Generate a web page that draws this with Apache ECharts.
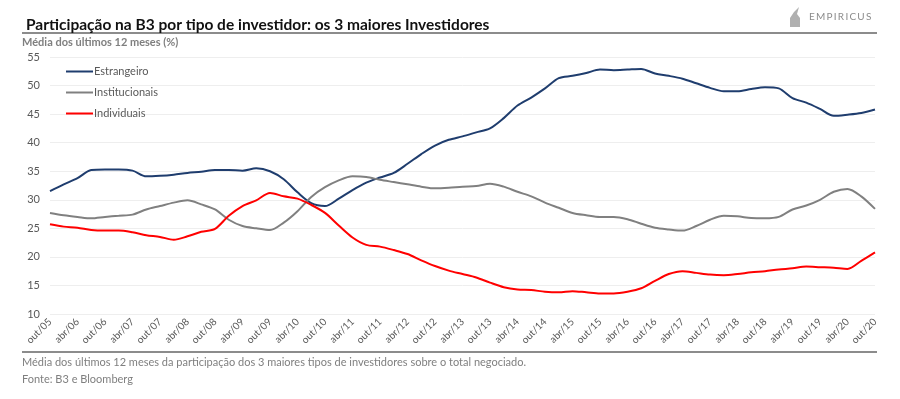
<!DOCTYPE html>
<html>
<head>
<meta charset="utf-8">
<script src="https://cdn.jsdelivr.net/npm/echarts@6/dist/echarts.min.js"></script>
<style>
  html, body { margin: 0; padding: 0; background: #fff; }
  #chart { width: 900px; height: 399px; }
</style>
</head>
<body>
<div id="chart"></div>
<script>
// trimestral, de out/05 a out/20
const meses = ['jan', 'abr', 'jul', 'out']
const categorias = []
for (let q = 0; q <= 60; q++) {
  const m = 3 + q            // 3 = out/05 em trimestres a partir de jan/05
  const ano = 5 + Math.floor(m / 4)
  categorias.push(meses[m % 4] + '/' + String(ano).padStart(2, '0'))
}

const estrangeiro = [
  31.5, 32.7, 33.8, 35.2, 35.3, 35.3, 35.1, 34.1, 34.2, 34.4,
  34.7, 34.9, 35.2, 35.2, 35.1, 35.5, 35.0, 33.6, 31.3, 29.4,
  28.9, 30.2, 31.7, 33.0, 33.9, 34.7, 36.3, 38.0, 39.5, 40.5,
  41.1, 41.8, 42.5, 44.3, 46.5, 47.9, 49.5, 51.3, 51.7, 52.2,
  52.8, 52.7, 52.8, 52.9, 52.1, 51.7, 51.2, 50.4, 49.6, 49.0,
  49.0, 49.4, 49.7, 49.5, 47.8, 47.0, 45.9, 44.7, 44.9, 45.2,
  45.8
]
const institucionais = [
  27.7, 27.3, 27.0, 26.75, 27.0, 27.2, 27.4, 28.3, 28.9, 29.5,
  29.9, 29.2, 28.3, 26.5, 25.4, 25.0, 24.7, 26.0, 28.0, 30.5,
  32.2, 33.4, 34.1, 34.0, 33.5, 33.1, 32.7, 32.3, 32.0, 32.1,
  32.3, 32.4, 32.8, 32.3, 31.4, 30.6, 29.5, 28.6, 27.7, 27.3,
  27.0, 27.0, 26.6, 25.8, 25.1, 24.8, 24.6, 25.4, 26.5, 27.2,
  27.1, 26.8, 26.75, 27.0, 28.3, 29.0, 30.0, 31.4, 31.9, 30.6,
  28.4
]
const individuais = [
  25.7, 25.3, 25.1, 24.7, 24.6, 24.6, 24.3, 23.8, 23.5, 23.0,
  23.6, 24.4, 24.9, 27.2, 28.9, 29.9, 31.2, 30.6, 30.2, 29.1,
  27.7, 25.5, 23.4, 22.1, 21.8, 21.2, 20.5, 19.4, 18.4, 17.6,
  17.0, 16.4, 15.5, 14.7, 14.3, 14.2, 13.9, 13.8, 14.0, 13.8,
  13.6, 13.6, 13.9, 14.5, 15.8, 17.0, 17.5, 17.2, 16.9, 16.8,
  17.0, 17.3, 17.5, 17.8, 18.0, 18.3, 18.2, 18.1, 17.9, 19.3,
  20.8
]

const fonte = 'Lato, sans-serif'
const chart = echarts.init(document.getElementById('chart'))

chart.setOption({
  animation: false,
  title: {
    text: 'Participação na B3 por tipo de investidor: os 3 maiores Investidores',
    left: 21,
    top: 12,
    textStyle: { fontFamily: fonte, fontSize: 15.5, fontWeight: 'bold', color: '#111' }
  },
  graphic: [
    { type: 'line', shape: { x1: 22, y1: 33, x2: 877, y2: 33 }, style: { stroke: '#8c8c8c', lineWidth: 2 } },
    { type: 'line', shape: { x1: 22, y1: 352, x2: 877, y2: 352 }, style: { stroke: '#8c8c8c', lineWidth: 2 } },
    {
      type: 'polygon',
      shape: { points: [[790, 27], [790, 18], [794, 12], [799, 7], [797, 14], [800, 18], [800, 27]] },
      style: { fill: '#b0b0b0' }
    },
    {
      type: 'text', left: 809, top: 12,
      style: { text: 'E\u2009M\u2009P\u2009I\u2009R\u2009I\u2009C\u2009U\u2009S', font: '10px ' + fonte, fill: '#8c8c8c' }
    },
    {
      type: 'text', left: 22, top: 37,
      style: { text: 'Média dos últimos 12 meses (%)', font: 'bold 11px ' + fonte, fill: '#7f7f7f' }
    },
    {
      type: 'text', left: 22, top: 357,
      style: { text: 'Média dos últimos 12 meses da participação dos 3 maiores tipos de investidores sobre o total negociado.', font: '11px ' + fonte, fill: '#7f7f7f' }
    },
    {
      type: 'text', left: 22, top: 374,
      style: { text: 'Fonte: B3 e Bloomberg', font: '11px ' + fonte, fill: '#7f7f7f' }
    }
  ],
  legend: {
    orient: 'vertical',
    left: 61,
    top: 60,
    itemWidth: 27,
    itemHeight: 2,
    itemGap: 8,
    icon: 'rect',
    textStyle: { fontFamily: fonte, fontSize: 11, color: '#595959', padding: [0, 0, 0, -4], lineHeight: 13 },
    data: ['Estrangeiro', 'Institucionais', 'Individuais']
  },
  grid: { left: 50, right: 25, top: 57, bottom: 85 },
  xAxis: {
    type: 'category',
    data: categorias,
    boundaryGap: false,
    axisLine: { show: false },
    axisTick: { show: false },
    axisLabel: { interval: 1, rotate: 45, fontFamily: fonte, fontSize: 10, color: '#595959', margin: 6 }
  },
  yAxis: {
    type: 'value',
    min: 10,
    max: 55,
    interval: 5,
    axisLine: { show: false },
    axisTick: { show: false },
    axisLabel: { fontFamily: fonte, fontSize: 11, color: '#595959', margin: 10 },
    splitLine: { lineStyle: { color: '#eeeeee' } }
  },
  series: [
    { name: 'Estrangeiro', type: 'line', data: estrangeiro, symbol: 'none', smooth: 0.3, lineStyle: { width: 2, color: '#1f3d6e' }, itemStyle: { color: '#1f3d6e' } },
    { name: 'Institucionais', type: 'line', data: institucionais, symbol: 'none', smooth: 0.3, lineStyle: { width: 2, color: '#808080' }, itemStyle: { color: '#808080' } },
    { name: 'Individuais', type: 'line', data: individuais, symbol: 'none', smooth: 0.3, lineStyle: { width: 2, color: '#ff0000' }, itemStyle: { color: '#ff0000' } }
  ]
})
</script>
</body>
</html>
